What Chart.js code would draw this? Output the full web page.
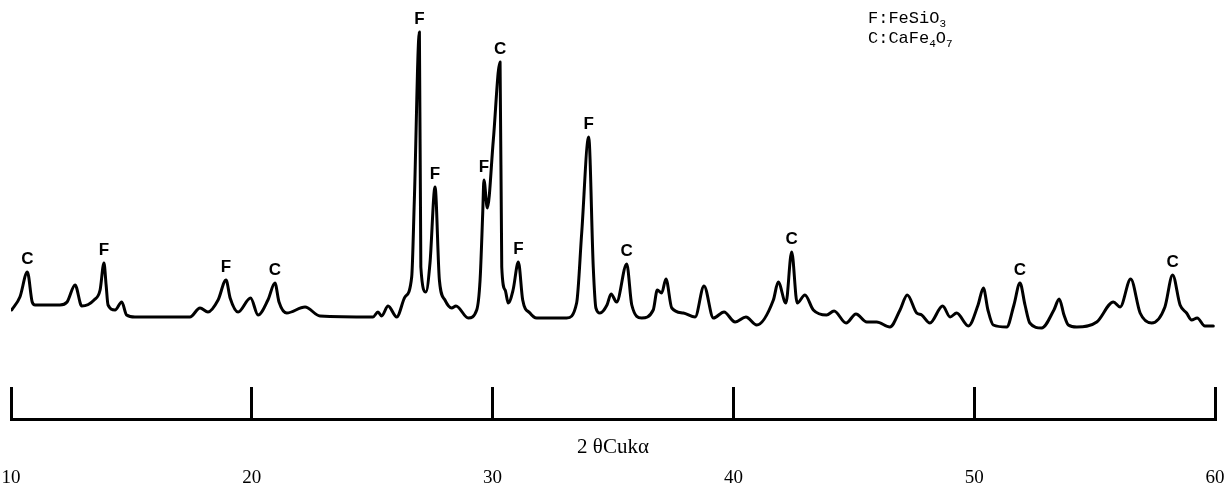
<!DOCTYPE html>
<html>
<head>
<meta charset="utf-8">
<title>XRD pattern</title>
<script src="https://cdn.jsdelivr.net/npm/chart.js@4.4.1/dist/chart.umd.min.js"></script>
<style>
  html, body { margin: 0; padding: 0; background: #fff; }
  #wrap { width: 1225px; height: 496px; }
</style>
</head>
<body>
<div id="wrap"><canvas id="xrd"></canvas></div>
<script>
// diffraction angle (2θ, degrees) and measured intensity (arb. units)
const twoTheta = [
  10.03, 10.37, 10.68, 10.88, 11.00, 12.03, 12.33, 12.66, 12.94, 13.45,
  13.70, 13.86, 13.95, 14.03, 14.32, 14.60, 14.80, 15.15, 17.43, 17.85,
  18.18, 18.60, 18.93, 19.10, 19.43, 19.95, 20.26, 20.67, 20.96, 21.13,
  21.45, 22.21, 22.83, 25.03, 25.24, 25.39, 25.66, 26.02, 26.36, 26.64,
  26.75, 26.96, 27.02, 27.23, 27.40, 27.61, 27.79, 28.02, 28.30, 28.48,
  28.99, 29.34, 29.48, 29.59, 29.64, 29.78, 30.03, 30.31, 30.38, 30.52,
  30.65, 30.85, 31.07, 31.25, 31.55, 31.83, 33.08, 33.49, 33.70, 33.99,
  34.18, 34.29, 34.46, 34.75, 34.92, 35.15, 35.57, 35.78, 36.19, 36.67,
  36.84, 37.02, 37.20, 37.44, 37.92, 38.41, 38.78, 39.17, 39.61, 40.07,
  40.52, 40.97, 41.66, 41.86, 42.18, 42.42, 42.65, 42.97, 43.32, 43.87,
  44.18, 44.68, 45.09, 45.54, 45.95, 46.50, 46.92, 47.22, 47.61, 47.82,
  48.16, 48.69, 49.00, 49.27, 49.76, 50.16, 50.38, 50.57, 50.79, 51.35,
  51.65, 51.90, 52.11, 52.31, 52.80, 53.31, 53.53, 53.73, 53.91, 54.26,
  55.09, 55.78, 56.06, 56.50, 56.89, 57.37, 57.92, 58.24, 58.55, 58.82,
  59.03, 59.26, 59.58, 59.93
];
const intensity = [
  30, 43, 68, 38, 35, 35, 38, 55, 34, 40,
  50, 77, 55, 35, 30, 38, 25, 23, 23, 32,
  28, 40, 60, 42, 28, 42, 25, 40, 57, 38,
  27, 33, 24, 23, 28, 24, 34, 23, 43, 63,
  140, 308, 73, 48, 77, 153, 60, 40, 32, 34,
  22, 30, 60, 127, 160, 132, 200, 278, 73, 50,
  37, 50, 78, 40, 27, 22, 22, 37, 107, 203,
  73, 32, 27, 35, 46, 38, 76, 35, 22, 30,
  50, 47, 61, 32, 27, 23, 54, 22, 28, 18,
  23, 15, 40, 58, 37, 88, 37, 45, 30, 25,
  29, 17, 26, 18, 18, 13, 30, 45, 27, 25,
  17, 34, 23, 27, 14, 35, 52, 30, 15, 13,
  35, 57, 35, 17, 12, 30, 41, 25, 15, 13,
  18, 38, 33, 61, 27, 17, 33, 65, 35, 27,
  20, 22, 14, 14
];

// phase assignment of the indexed reflections
const peakPos = [10.68, 13.86, 18.93, 20.96, 26.96, 27.61, 29.64, 30.31, 31.07, 33.99, 35.57, 42.42, 51.90, 58.24];
const peakPhase = ['C', 'F', 'F', 'C', 'F', 'F', 'F', 'C', 'F', 'F', 'C', 'C', 'C', 'C'];

const phaseKeys = ['F', 'C'];
const phaseFormulas = ['FeSiO3', 'CaFe4O7'];

const tickValues = [10, 20, 30, 40, 50, 60];

// letters above the indexed peaks
const peakLabels = {
  id: 'peakLabels',
  afterDatasetsDraw(chart) {
    const { ctx, scales: { x, y } } = chart;
    ctx.save();
    ctx.font = 'bold 17px "Liberation Sans", Arial, sans-serif';
    ctx.fillStyle = '#000';
    ctx.textAlign = 'center';
    ctx.textBaseline = 'middle';
    peakPos.forEach((pos, i) => {
      let top = 0;
      twoTheta.forEach((t, j) => {
        if (Math.abs(t - pos) < 0.12) top = Math.max(top, intensity[j]);
      });
      ctx.fillText(peakPhase[i], x.getPixelForValue(pos), y.getPixelForValue(top) - 13);
    });
    ctx.restore();
  }
};

// phase key in the upper right, digits set as subscripts
const phaseKey = {
  id: 'phaseKey',
  afterDraw(chart) {
    const ctx = chart.ctx;
    ctx.save();
    ctx.fillStyle = '#000';
    ctx.textBaseline = 'alphabetic';
    phaseKeys.forEach((k, i) => {
      let px = 868;
      const py = 23 + i * 20;
      const text = k + ':' + phaseFormulas[i];
      for (const ch of text) {
        const isDigit = /[0-9]/.test(ch);
        ctx.font = isDigit ? '11px "Liberation Mono", monospace' : '17px "Liberation Mono", monospace';
        ctx.fillText(ch, px, isDigit ? py + 4 : py);
        px += ctx.measureText(ch).width;
      }
    });
    ctx.restore();
  }
};

const points = twoTheta.map((t, i) => ({ x: t, y: intensity[i] }));

new Chart(document.getElementById('xrd'), {
  type: 'line',
  data: {
    datasets: [{
      data: points,
      borderColor: '#000',
      borderWidth: 3,
      borderJoinStyle: 'round',
      borderCapStyle: 'round',
      pointRadius: 0,
      cubicInterpolationMode: 'monotone',
      fill: false
    }]
  },
  options: {
    responsive: true,
    maintainAspectRatio: false,
    animation: false,
    layout: { padding: { left: 11, right: 10, top: 0, bottom: 0 } },
    plugins: {
      legend: { display: false },
      tooltip: { enabled: false }
    },
    scales: {
      x: {
        type: 'linear',
        min: 10,
        max: 60,
        afterBuildTicks: s => { s.ticks = tickValues.map(v => ({ value: v })); },
        // labels sit far below the axis line; keep the box tight
        afterFit: s => {
          s.height = 77;
          s.paddingLeft = 0;
          s.paddingRight = 0;
        },
        border: { display: true, color: '#000', width: 3 },
        grid: {
          drawOnChartArea: false,
          drawTicks: true,
          tickLength: -32,
          tickWidth: 3,
          tickColor: '#000'
        },
        ticks: {
          autoSkip: false,
          maxRotation: 0,
          padding: 80,
          color: '#000',
          font: { family: '"Liberation Serif", serif', size: 19 }
        },
        title: {
          display: true,
          text: '2 θCukα',
          color: '#000',
          font: { family: '"Liberation Serif", serif', size: 21 },
          padding: { top: 0, bottom: 36 }
        }
      },
      y: {
        display: false,
        min: -79,
        max: 340
      }
    }
  },
  plugins: [peakLabels, phaseKey]
});
</script>
</body>
</html>
